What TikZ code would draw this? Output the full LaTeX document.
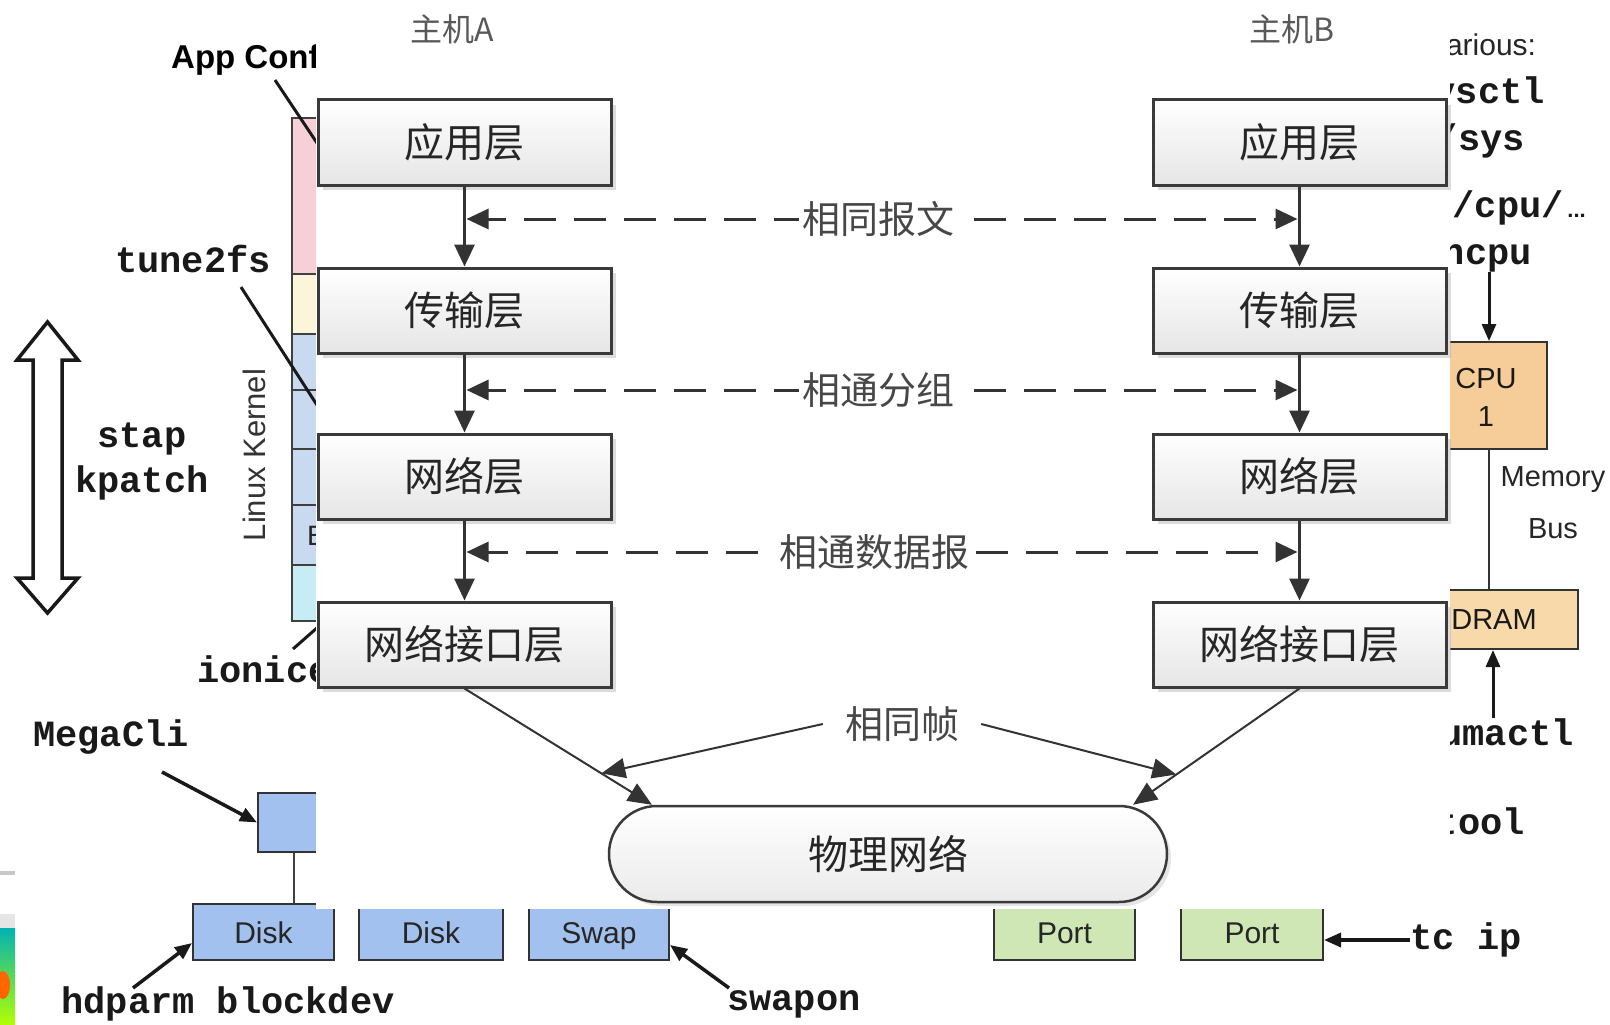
\documentclass[tikz,border=0pt]{standalone}
\usepackage{fontspec}
\setmainfont{Liberation Sans}
\newfontfamily\cjk{Noto Sans CJK SC}
\newfontfamily\mono{Liberation Mono}
\usetikzlibrary{arrows.meta,shapes.misc,shadows,calc}
\definecolor{fgline}{HTML}{333333}
\definecolor{boxline}{HTML}{3A3A3A}
\definecolor{pinkseg}{HTML}{F7CFD7}
\definecolor{yelseg}{HTML}{FBF5DC}
\definecolor{blueseg}{HTML}{C9D9F0}
\definecolor{cyanseg}{HTML}{C6EDF3}
\definecolor{diskblue}{HTML}{A3C1EE}
\definecolor{portgreen}{HTML}{CFE7B5}
\definecolor{cpuorange}{HTML}{F6CC98}
\definecolor{dramorange}{HTML}{F8DAAA}
\tikzset{
  mon/.style={font=\mono\bfseries\fontsize{37}{40}\selectfont, text=black!90, inner sep=0pt},
  sansl/.style={font=\fontsize{30}{34}\selectfont, text=black!85, inner sep=0pt, text height=22pt, text depth=0pt},
  bgline/.style={line width=3pt, draw=black!90},
  bgarrow/.style={line width=3.5pt, draw=black!90, -{Triangle[length=17pt,width=14pt]}},
  hwbox/.style={draw=black!80, line width=2pt, inner sep=0pt},
  layer/.style={draw=boxline, line width=3pt, minimum width=293pt, minimum height=85pt,
    top color=white, bottom color=black!10, inner sep=0pt,
    font=\cjk\fontsize{40}{44}\selectfont, text=black!85,
    drop shadow={shadow xshift=5pt, shadow yshift=-5pt, fill=black!30, opacity=0.45}},
  hostlab/.style={font=\cjk\fontsize{32}{36}\selectfont, text=black!65, inner sep=0pt},
  midlab/.style={font=\cjk\fontsize{38}{42}\selectfont, text=black!72, fill=white, inner xsep=3pt, inner ysep=2pt},
  fgarrow/.style={line width=3pt, draw=fgline, -{Triangle[length=22pt,width=20pt]}},
  dasharrow/.style={line width=3pt, draw=fgline, dash pattern=on 32pt off 18pt,
    {Triangle[length=22pt,width=20pt]}-{Triangle[length=22pt,width=20pt]}},
  fgthin/.style={line width=2pt, draw=fgline, -{Triangle[length=24pt,width=20pt]}},
}
\begin{document}
\begin{tikzpicture}[x=1pt,y=-1pt]
\useasboundingbox (0,0) rectangle (1610,1025);
\fill[white] (0,0) rectangle (1610,1025);

% ---------------- background diagram ----------------
% far-left fragments
\fill[black!22] (0,871) rectangle (15,875);
\fill[black!10] (0,914) rectangle (15,928);
\shade[top color=teal!60!cyan, bottom color=yellow!70!green] (0,928) rectangle (15,1025);
\fill[orange!80!red] (3,985) ellipse (7pt and 14pt);

% hollow double arrow
\draw[line width=3.5pt, draw=black!90, fill=white, line join=miter]
  (47.5,322) -- (78,360) -- (62,360) -- (62,578) -- (78,578) -- (47.5,613)
  -- (17,578) -- (33,578) -- (33,360) -- (17,360) -- cycle;

% kernel stack column
\fill[pinkseg] (292,118) rectangle (360,274);
\fill[yelseg] (292,274) rectangle (360,334);
\fill[blueseg] (292,334) rectangle (360,565);
\fill[cyanseg] (292,565) rectangle (360,621);
\draw[line width=2pt, draw=black!75] (292,118) rectangle (360,621);
\foreach \yy in {274,334,390,449,505,565}
  \draw[line width=2pt, draw=black!75] (292,\yy) -- (360,\yy);
\node[anchor=west, font=\fontsize{28}{32}\selectfont, text=black!85, inner sep=0pt] (blk) at (307,535) {Block Device Interface};

\node[font=\fontsize{31}{34}\selectfont, text=black!80, rotate=90, inner sep=0pt] (lk) at (254,455) {Linux Kernel};

\node[font=\bfseries\fontsize{33}{36}\selectfont, anchor=west, inner sep=0pt] (appc) at (171,60) {App Config};
\coordinate (appcT) at (345,185);
\coordinate (appc1) at (275,80);
\draw[bgline] (appc1) -- (appcT);

\node[mon] (tune) at (193,259) {tune2fs};
\coordinate (tuneT) at (335,433);
\draw[bgline] ([xshift=48pt,yshift=-14pt]tune.south) -- (tuneT);

\node[mon] (stap) at (142,439) {stap};
\node[mon] (kpat) at (142,483) {kpatch};

\node[mon, anchor=west] (ion) at (197,669) {ionice};
\coordinate (ion1) at (293,649);
\coordinate (ionT) at (335,612);
\draw[bgline] (ion1) -- (ionT);

\node[mon] (mega) at (111,737) {MegaCli};
\node[hwbox, fill=diskblue, minimum width=110pt, minimum height=59pt] (ctrl) at (313,822.5) {};
\coordinate (mega1) at (162,772);
\draw[bgarrow] (mega1) -- (ctrl.west);

\node[hwbox, fill=diskblue, minimum width=141pt, minimum height=56pt, sansl] (disk1) at (263.5,932) {Disk};
\node[hwbox, fill=diskblue, minimum width=144pt, minimum height=56pt, sansl] (disk2) at (431,932) {Disk};
\node[hwbox, fill=diskblue, minimum width=140pt, minimum height=56pt, sansl] (swap) at (599,932) {Swap};
\coordinate (dtop) at ($(disk1.north west)!0.71!(disk1.north east)$);
\draw[line width=2pt, draw=black!75] (dtop) -- (dtop |- ctrl.south);

\node[mon] (hdp) at (228,1004) {hdparm blockdev};
\coordinate (hdp1) at (133,988);
\draw[bgarrow] (hdp1) -- ([yshift=-11pt]disk1.west);

\node[mon] (swo) at (794,1004) {swapon};
\coordinate (swo1) at (729,988);
\draw[bgarrow] (swo1) -- ([yshift=-13pt]swap.east);

\node[hwbox, fill=portgreen, minimum width=141pt, minimum height=56pt, sansl] (port1) at (1064.5,932) {Port};
\node[hwbox, fill=portgreen, minimum width=142pt, minimum height=56pt, sansl] (port2) at (1252,932) {Port};
\node[mon] (tcip) at (1466,940) {tc ip};
\draw[bgarrow] (tcip.west) -- (tcip.west -| port2.east);

% right side
\node[font=\fontsize{30}{33}\selectfont, text=black!85, anchor=west, inner sep=0pt] (var) at (1428,45) {Various:};
\node[mon, anchor=east] (sysctl) at (1545,94) {sysctl};
\node[mon, anchor=east] (sys) at (1525,141) {/sys};
\node[mon, anchor=east] (cpup) at (1586,208) {/sys/cpu/{\rmfamily\fontsize{22}{24}\selectfont\,...}};
\node[mon, anchor=east] (chcpu) at (1532,255) {chcpu};
\node[hwbox, fill=cpuorange, minimum width=116pt, minimum height=107pt] (cpu) at (1489,395.5) {};
\node[font=\fontsize{29}{38}\selectfont, text=black!90, align=center, inner sep=0pt] (cpulab) at (1486,397) {CPU\\1};
\draw[bgarrow, line width=3pt] (chcpu.south -| cpu.north) -- (cpu.north);
\node[hwbox, fill=dramorange, minimum width=170pt, minimum height=59pt] (dram) at (1493,619.5) {};
\node[font=\fontsize{29}{32}\selectfont, text=black!90, inner sep=0pt] (dramlab) at (1494,620) {DRAM};
\draw[line width=2pt, draw=black!80] (cpu.south) -- (cpu.south |- dram.north);
\node[font=\fontsize{29}{52}\selectfont, text=black!85, align=center, inner sep=0pt] (mbus) at (1553,503) {Memory\\Bus};
\node[mon, anchor=east] (numa) at (1574,732) {numactl};
\draw[bgarrow, line width=3pt] (numa.north -| dram.south) -- (dram.south);
\node[mon, anchor=east] (eth) at (1525,821) {ethtool};

% ---------------- white overlay panel ----------------
\fill[white] (316,0) rectangle (1450,909);

% ---------------- foreground diagram ----------------
\node[hostlab] (hA) at (452,29) {主机A};
\node[hostlab] (hB) at (1292,29) {主机B};

\node[layer] (A1) at (464.5,142.5) {应用层};
\node[layer] (A2) at (464.5,310.5) {传输层};
\node[layer] (A3) at (464.5,476.5) {网络层};
\node[layer] (A4) at (464.5,644.5) {网络接口层};
\node[layer] (B1) at (1299.5,142.5) {应用层};
\node[layer] (B2) at (1299.5,310.5) {传输层};
\node[layer] (B3) at (1299.5,476.5) {网络层};
\node[layer] (B4) at (1299.5,644.5) {网络接口层};

\draw[fgarrow] (A1.south) -- (A2.north);
\draw[fgarrow] (A2.south) -- (A3.north);
\draw[fgarrow] (A3.south) -- (A4.north);
\draw[fgarrow] (B1.south) -- (B2.north);
\draw[fgarrow] (B2.south) -- (B3.north);
\draw[fgarrow] (B3.south) -- (B4.north);

\coordinate (m1c) at (878,219);
\coordinate (m2c) at (878,390);
\coordinate (m3c) at (874,552);
\draw[dasharrow, dash phase=13.5pt, shorten <=2pt, shorten >=2pt] (m1c -| A1.south) -- (m1c -| B1.south);
\draw[dasharrow, dash phase=13.5pt, shorten <=2pt, shorten >=2pt] (m2c -| A2.south) -- (m2c -| B2.south);
\draw[dasharrow, dash phase=11.5pt, shorten <=2pt, shorten >=2pt] (m3c -| A3.south) -- (m3c -| B3.south);
\node[midlab] (m1) at (m1c) {相同报文};
\node[midlab] (m2) at (m2c) {相通分组};
\node[midlab] (m3) at (m3c) {相通数据报};

\node[draw=boxline, line width=2.5pt, rounded rectangle, minimum width=558pt, minimum height=96pt,
  top color=white, bottom color=black!8, inner sep=0pt,
  font=\cjk\fontsize{40}{44}\selectfont, text=black!85,
  drop shadow={shadow xshift=4pt, shadow yshift=-4pt, fill=black!25, opacity=0.4}] (P) at (888,854) {物理网络};
\coordinate (pL) at ([xshift=-236pt]P.north);
\coordinate (pR) at ([xshift=245pt]P.north);
\draw[fgthin] (A4.south) -- (pL);
\draw[fgthin] (B4.south) -- (pR);
\node[font=\cjk\fontsize{38}{42}\selectfont, text=black!72, inner xsep=22pt, inner ysep=2pt] (fr) at (902,724) {相同帧};
\draw[fgthin] (fr.west) -- ($(A4.south)!0.73!(pL)$);
\draw[fgthin] (fr.east) -- ($(B4.south)!0.74!(pR)$);
\end{tikzpicture}
\end{document}
